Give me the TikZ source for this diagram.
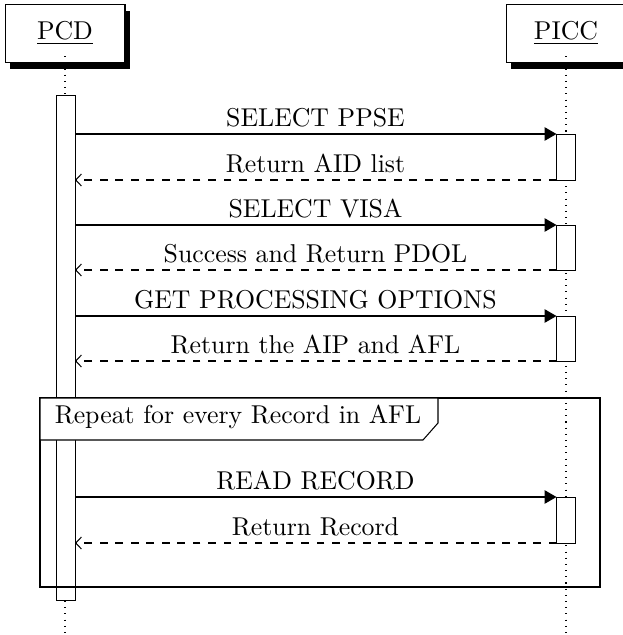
\documentclass[tikz,border=0pt]{standalone}
\usetikzlibrary{arrows.meta,shadows}
\begin{document}
\begin{tikzpicture}[x=0.3876pt,y=-0.3876pt,line width=0.4pt,
  inst/.style={draw,fill=white,minimum width=46.5pt,minimum height=22.6pt,inner sep=0pt,
    drop shadow={opacity=1,fill=black,shadow xshift=2.1pt,shadow yshift=-2.5pt}},
  act/.style={draw,fill=white,minimum width=7.2pt,inner sep=0pt,anchor=north},
  call/.style={-{Triangle[length=4.6pt,width=5.2pt]}},
  ret/.style={dashed,-{Straight Barb[length=2.2pt,width=4.6pt]}},
  lbl/.style={anchor=base,inner sep=0pt},
  life/.style={dotted}]
\useasboundingbox (0,0) rectangle (623,635);
\clip (0,0) rectangle (623,635);
% participants
\node[inst] (pcd) at (65,33.5) {\underline{PCD}};
\node[inst] (picc) at (566,33.5) {\underline{PICC}};
% lifelines
\coordinate (pcdend) at (65,635);
\coordinate (piccend) at (566,635);
\draw[life] (pcd.south) ++(0,-7) -- (pcdend);
\draw[life] (picc.south) ++(0,-7) -- (piccend);
% activations
\node[act,minimum height={505*0.3876pt}] (apcd) at (66,95) {};
\node[act,minimum height={46*0.3876pt}] (a1) at (566,134) {};
\node[act,minimum height={45*0.3876pt}] (a2) at (566,225) {};
\node[act,minimum height={45*0.3876pt}] (a3) at (566,316) {};
\node[act,minimum height={46*0.3876pt}] (a4) at (566,497) {};
% messages
\foreach \n/\y in {1/134,2/180,3/225,4/270,5/316,6/361,7/497,8/543}{
  \coordinate (l\n) at (75,\y);
  \coordinate (r\n) at (556.5,\y);
}
\draw[call] (l1) -- (r1);
\node[lbl] (t1) at (315.5,126) {SELECT PPSE};
\draw[ret] (r2) -- (l2);
\node[lbl] (t2) at (315.5,172) {Return AID list};
\draw[call] (l3) -- (r3);
\node[lbl] (t3) at (315.5,217) {SELECT VISA};
\draw[ret] (r4) -- (l4);
\node[lbl] (t4) at (315.5,262) {Success and Return PDOL};
\draw[call] (l5) -- (r5);
\node[lbl] (t5) at (315.5,308) {GET PROCESSING OPTIONS};
\draw[ret] (r6) -- (l6);
\node[lbl] (t6) at (315.5,353) {Return the AIP and AFL};
\draw[call] (l7) -- (r7);
\node[lbl] (t7) at (315.5,489) {READ RECORD};
\draw[ret] (r8) -- (l8);
\node[lbl] (t8) at (315.5,535) {Return Record};
% frame
\draw (40,398) rectangle (600,587);
\coordinate (f0) at (40,398);
\filldraw[fill=white] (f0) -- (438,398) -- (438,423) -- (423,440) -- (40,440) -- cycle;
\node[lbl] (ft) at (238,423) {Repeat for every Record in AFL};
\end{tikzpicture}
\end{document}
